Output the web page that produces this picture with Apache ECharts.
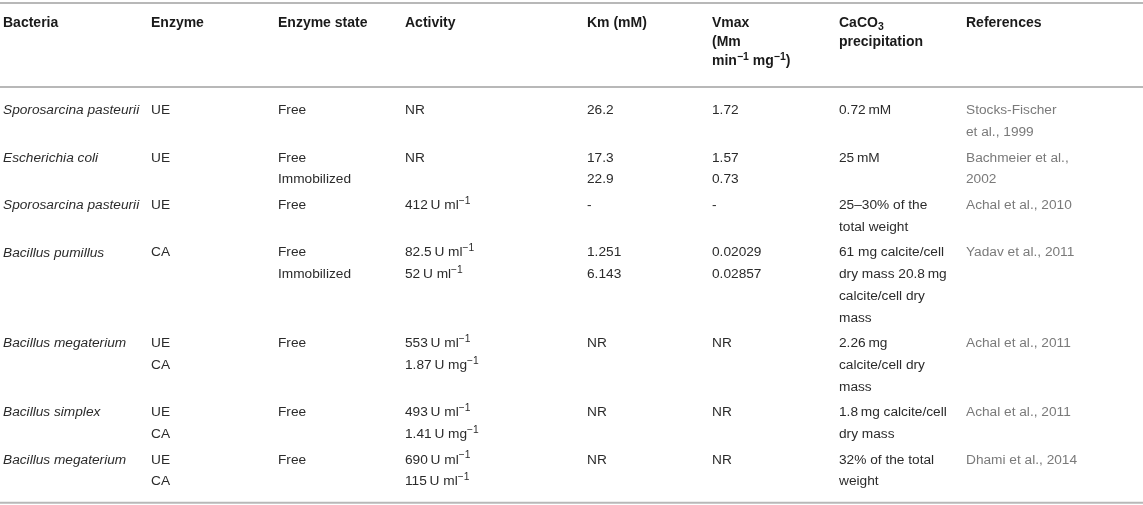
<!DOCTYPE html>
<html>
<head>
<meta charset="utf-8">
<script src="https://cdn.jsdelivr.net/npm/echarts@6/dist/echarts.min.js"></script>
<style>
  html, body { margin: 0; padding: 0; background: #fff; }
  #main { width: 1143px; height: 505px; }
</style>
</head>
<body>
<div id="main"></div>
<script>
// table content, one array per column
var headers = ['Bacteria', 'Enzyme', 'Enzyme state', 'Activity', 'Km (mM)',
  'Vmax\n(Mm\nmin{sup|\u22121} mg{sup|\u22121})', 'CaCO{sub|3}\nprecipitation', 'References'];
var bacteria = ['Sporosarcina pasteurii', 'Escherichia coli', 'Sporosarcina pasteurii',
  'Bacillus pumillus', 'Bacillus megaterium', 'Bacillus simplex', 'Bacillus megaterium'];
var enzyme = ['UE', 'UE', 'UE', 'CA', 'UE\nCA', 'UE\nCA', 'UE\nCA'];
var enzymeState = ['Free', 'Free\nImmobilized', 'Free', 'Free\nImmobilized', 'Free', 'Free', 'Free'];
var activity = ['NR', 'NR', '412\u2009U ml{sup|\u22121}',
  '82.5\u2009U ml{sup|\u22121}\n52\u2009U ml{sup|\u22121}',
  '553\u2009U ml{sup|\u22121}\n1.87\u2009U mg{sup|\u22121}',
  '493\u2009U ml{sup|\u22121}\n1.41\u2009U mg{sup|\u22121}',
  '690\u2009U ml{sup|\u22121}\n115\u2009U ml{sup|\u22121}'];
var km = ['26.2', '17.3\n22.9', '-', '1.251\n6.143', 'NR', 'NR', 'NR'];
var vmax = ['1.72', '1.57\n0.73', '-', '0.02029\n0.02857', 'NR', 'NR', 'NR'];
var caco3 = ['0.72\u2009mM', '25\u2009mM', '25\u201330% of the\ntotal weight',
  '61 mg calcite/cell\ndry mass 20.8\u2009mg\ncalcite/cell dry\nmass',
  '2.26\u2009mg\ncalcite/cell dry\nmass', '1.8\u2009mg calcite/cell\ndry mass',
  '32% of the total\nweight'];
var references = ['Stocks-Fischer\net al., 1999', 'Bachmeier et al.,\n2002', 'Achal et al., 2010',
  'Yadav et al., 2011', 'Achal et al., 2011', 'Achal et al., 2011', 'Dhami et al., 2014'];

var columns = [bacteria, enzyme, enzymeState, activity, km, vmax, caco3, references];

// layout
var colX = [3, 151, 278, 405, 587, 712, 839, 966];
var LH = 21.7, GAP = 4, HEAD_LH = 19, HEAD_Y = 23.5, FIRST_ROW = 110.5;
var FONT = 'Liberation Sans';

function nLines(r) {
  var n = 1;
  columns.forEach(function (col) { n = Math.max(n, col[r].split('\n').length); });
  return n;
}
var rowY = [];
var y = FIRST_ROW;
for (var r = 0; r < bacteria.length; r++) {
  rowY.push(y);
  y += nLines(r) * LH + GAP;
}
var rules = [3, 87, rowY[rowY.length - 1] + (nLines(rowY.length - 1) - 1) * LH + 21];

var cells = [];
for (var c = 0; c < columns.length; c++) {
  cells.push([c, -1]);
  for (var r2 = 0; r2 < bacteria.length; r2++) cells.push([c, r2]);
}

function richFor(size) {
  return {
    sup: { fontSize: size * 0.75, fontFamily: FONT, padding: [0, 0, 9, 0] },
    sub: { fontSize: size * 0.75, fontFamily: FONT, padding: [8, 0, 0, 0] }
  };
}

var myChart = echarts.init(document.getElementById('main'));
var option = {
  animation: false,
  grid: { left: 0, right: 0, top: 0, bottom: 0 },
  xAxis: { type: 'value', min: 0, max: 1143, show: false },
  yAxis: { type: 'value', min: 0, max: 505, inverse: true, show: false },
  series: [{
    type: 'custom',
    data: rules.map(function (v) { return [v]; }),
    renderItem: function (params, api) {
      var p0 = api.coord([0, api.value(0)]);
      var p1 = api.coord([1143, api.value(0)]);
      return {
        type: 'line',
        shape: { x1: p0[0], y1: p0[1], x2: p1[0], y2: p1[1] },
        style: { stroke: '#b8b8b8', lineWidth: 2 }
      };
    }
  }, {
    type: 'custom',
    data: cells,
    renderItem: function (params, api) {
      var c = api.value(0), r = api.value(1);
      var head = r < 0;
      var lh = head ? HEAD_LH : LH;
      var yc = head ? HEAD_Y : rowY[r];
      var pt = api.coord([colX[c], yc - lh / 2]);
      var size = head ? 14 : 13.7;
      var st = {
        text: head ? headers[c] : columns[c][r],
        fontFamily: FONT,
        fontSize: size,
        fontWeight: head ? 'bold' : 'normal',
        fontStyle: (!head && c === 0) ? 'italic' : 'normal',
        fill: head ? '#1a1a1a' : (c === 7 ? '#7a7a7a' : '#2b2b2b'),
        lineHeight: lh,
        align: 'left',
        verticalAlign: 'top',
        rich: richFor(size)
      };
      st.rich.sup.fontWeight = st.fontWeight;
      st.rich.sub.fontWeight = st.fontWeight;
      return { type: 'text', x: pt[0], y: pt[1], style: st };
    }
  }]
};
myChart.setOption(option);
</script>
</body>
</html>
